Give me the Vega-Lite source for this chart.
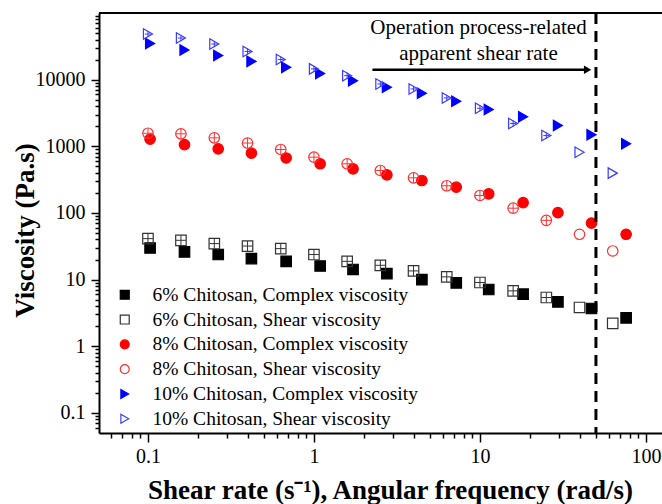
{
  "$schema": "https://vega.github.io/schema/vega-lite/v6.json",
  "width": 563,
  "height": 420,
  "autosize": {"type": "none"},
  "padding": {"left": 99, "top": 13, "right": 0, "bottom": 71},
  "background": "white",
  "config": {
    "view": {"stroke": null},
    "font": "Liberation Serif",
    "axis": {
      "domainColor": "black",
      "domainWidth": 2,
      "tickColor": "black",
      "tickWidth": 1.5,
      "labelColor": "black",
      "titleColor": "black",
      "labelFont": "Liberation Serif",
      "titleFont": "Liberation Serif",
      "labelFontSize": 20,
      "titleFontSize": 27,
      "titleFontWeight": "bold",
      "grid": false,
      "labelOverlap": false,
      "labelFlush": false
    }
  },
  "datasets": {
    "viscosity": [
      {"series": "6% Chitosan, Complex viscosity", "x": 0.103, "y": 29.8},
      {"series": "6% Chitosan, Complex viscosity", "x": 0.166, "y": 26.0},
      {"series": "6% Chitosan, Complex viscosity", "x": 0.265, "y": 23.8},
      {"series": "6% Chitosan, Complex viscosity", "x": 0.42, "y": 20.7},
      {"series": "6% Chitosan, Complex viscosity", "x": 0.68, "y": 18.8},
      {"series": "6% Chitosan, Complex viscosity", "x": 1.09, "y": 16.0},
      {"series": "6% Chitosan, Complex viscosity", "x": 1.72, "y": 14.2},
      {"series": "6% Chitosan, Complex viscosity", "x": 2.75, "y": 12.3},
      {"series": "6% Chitosan, Complex viscosity", "x": 4.47, "y": 10.0},
      {"series": "6% Chitosan, Complex viscosity", "x": 7.2, "y": 8.93},
      {"series": "6% Chitosan, Complex viscosity", "x": 11.3, "y": 7.11},
      {"series": "6% Chitosan, Complex viscosity", "x": 18.2, "y": 6.04},
      {"series": "6% Chitosan, Complex viscosity", "x": 29.5, "y": 4.63},
      {"series": "6% Chitosan, Complex viscosity", "x": 47, "y": 3.69},
      {"series": "6% Chitosan, Complex viscosity", "x": 76, "y": 2.67},
      {"series": "6% Chitosan, Shear viscosity", "x": 0.1, "y": 41.2},
      {"series": "6% Chitosan, Shear viscosity", "x": 0.158, "y": 38.9},
      {"series": "6% Chitosan, Shear viscosity", "x": 0.251, "y": 34.7},
      {"series": "6% Chitosan, Shear viscosity", "x": 0.398, "y": 31.9},
      {"series": "6% Chitosan, Shear viscosity", "x": 0.631, "y": 29.2},
      {"series": "6% Chitosan, Shear viscosity", "x": 1, "y": 23.8},
      {"series": "6% Chitosan, Shear viscosity", "x": 1.585, "y": 18.8},
      {"series": "6% Chitosan, Shear viscosity", "x": 2.512, "y": 16.4},
      {"series": "6% Chitosan, Shear viscosity", "x": 3.981, "y": 13.5},
      {"series": "6% Chitosan, Shear viscosity", "x": 6.31, "y": 11.0},
      {"series": "6% Chitosan, Shear viscosity", "x": 10, "y": 9.05},
      {"series": "6% Chitosan, Shear viscosity", "x": 15.85, "y": 6.78},
      {"series": "6% Chitosan, Shear viscosity", "x": 25.12, "y": 5.39},
      {"series": "6% Chitosan, Shear viscosity", "x": 39.81, "y": 3.82},
      {"series": "6% Chitosan, Shear viscosity", "x": 63.1, "y": 2.2},
      {"series": "8% Chitosan, Complex viscosity", "x": 0.103, "y": 1280},
      {"series": "8% Chitosan, Complex viscosity", "x": 0.166, "y": 1060},
      {"series": "8% Chitosan, Complex viscosity", "x": 0.265, "y": 918},
      {"series": "8% Chitosan, Complex viscosity", "x": 0.42, "y": 788},
      {"series": "8% Chitosan, Complex viscosity", "x": 0.68, "y": 668},
      {"series": "8% Chitosan, Complex viscosity", "x": 1.09, "y": 547},
      {"series": "8% Chitosan, Complex viscosity", "x": 1.72, "y": 460},
      {"series": "8% Chitosan, Complex viscosity", "x": 2.75, "y": 374},
      {"series": "8% Chitosan, Complex viscosity", "x": 4.47, "y": 307},
      {"series": "8% Chitosan, Complex viscosity", "x": 7.2, "y": 244},
      {"series": "8% Chitosan, Complex viscosity", "x": 11.3, "y": 194},
      {"series": "8% Chitosan, Complex viscosity", "x": 18.2, "y": 143},
      {"series": "8% Chitosan, Complex viscosity", "x": 29.5, "y": 101},
      {"series": "8% Chitosan, Complex viscosity", "x": 47, "y": 70.6},
      {"series": "8% Chitosan, Complex viscosity", "x": 76, "y": 47.9},
      {"series": "8% Chitosan, Shear viscosity", "x": 0.1, "y": 1570},
      {"series": "8% Chitosan, Shear viscosity", "x": 0.158, "y": 1540},
      {"series": "8% Chitosan, Shear viscosity", "x": 0.251, "y": 1340},
      {"series": "8% Chitosan, Shear viscosity", "x": 0.398, "y": 1120},
      {"series": "8% Chitosan, Shear viscosity", "x": 0.631, "y": 896},
      {"series": "8% Chitosan, Shear viscosity", "x": 1, "y": 687},
      {"series": "8% Chitosan, Shear viscosity", "x": 1.585, "y": 547},
      {"series": "8% Chitosan, Shear viscosity", "x": 2.512, "y": 434},
      {"series": "8% Chitosan, Shear viscosity", "x": 3.981, "y": 337},
      {"series": "8% Chitosan, Shear viscosity", "x": 6.31, "y": 256},
      {"series": "8% Chitosan, Shear viscosity", "x": 10, "y": 183},
      {"series": "8% Chitosan, Shear viscosity", "x": 15.85, "y": 118},
      {"series": "8% Chitosan, Shear viscosity", "x": 25.12, "y": 77.5},
      {"series": "8% Chitosan, Shear viscosity", "x": 39.81, "y": 47.9},
      {"series": "8% Chitosan, Shear viscosity", "x": 63.1, "y": 26.9},
      {"series": "10% Chitosan, Complex viscosity", "x": 0.103, "y": 34900},
      {"series": "10% Chitosan, Complex viscosity", "x": 0.166, "y": 27800},
      {"series": "10% Chitosan, Complex viscosity", "x": 0.265, "y": 23100},
      {"series": "10% Chitosan, Complex viscosity", "x": 0.42, "y": 18800},
      {"series": "10% Chitosan, Complex viscosity", "x": 0.68, "y": 15300},
      {"series": "10% Chitosan, Complex viscosity", "x": 1.09, "y": 12400},
      {"series": "10% Chitosan, Complex viscosity", "x": 1.72, "y": 9660},
      {"series": "10% Chitosan, Complex viscosity", "x": 2.75, "y": 7670},
      {"series": "10% Chitosan, Complex viscosity", "x": 4.47, "y": 6240},
      {"series": "10% Chitosan, Complex viscosity", "x": 7.2, "y": 4730},
      {"series": "10% Chitosan, Complex viscosity", "x": 11.3, "y": 3560},
      {"series": "10% Chitosan, Complex viscosity", "x": 18.2, "y": 2780},
      {"series": "10% Chitosan, Complex viscosity", "x": 29.5, "y": 2050},
      {"series": "10% Chitosan, Complex viscosity", "x": 47, "y": 1490},
      {"series": "10% Chitosan, Complex viscosity", "x": 76, "y": 1090},
      {"series": "10% Chitosan, Shear viscosity", "x": 0.1, "y": 48300},
      {"series": "10% Chitosan, Shear viscosity", "x": 0.158, "y": 42100},
      {"series": "10% Chitosan, Shear viscosity", "x": 0.251, "y": 34200},
      {"series": "10% Chitosan, Shear viscosity", "x": 0.398, "y": 26500},
      {"series": "10% Chitosan, Shear viscosity", "x": 0.631, "y": 20100},
      {"series": "10% Chitosan, Shear viscosity", "x": 1, "y": 14500},
      {"series": "10% Chitosan, Shear viscosity", "x": 1.585, "y": 11480},
      {"series": "10% Chitosan, Shear viscosity", "x": 2.512, "y": 8620},
      {"series": "10% Chitosan, Shear viscosity", "x": 3.981, "y": 7260},
      {"series": "10% Chitosan, Shear viscosity", "x": 6.31, "y": 5320},
      {"series": "10% Chitosan, Shear viscosity", "x": 10, "y": 3720},
      {"series": "10% Chitosan, Shear viscosity", "x": 15.85, "y": 2200},
      {"series": "10% Chitosan, Shear viscosity", "x": 25.12, "y": 1450},
      {"series": "10% Chitosan, Shear viscosity", "x": 39.81, "y": 816},
      {"series": "10% Chitosan, Shear viscosity", "x": 63.1, "y": 396}
    ],
    "frameTop": [{"y": 100000}],
    "cutoff": [{"x": 50}],
    "arrow": [{"x": 2.25, "x2": 44, "y": 14100}],
    "arrowHead": [{"x": 44.5, "y": 14100}],
    "note": [
      {"x": 9.8, "y": 48400, "text": "Operation process-related"},
      {"x": 9.8, "y": 19700, "text": "apparent shear rate"}
    ]
  },
  "layer": [
    {
      "data": {"name": "frameTop"},
      "mark": {"type": "rule", "color": "black", "strokeWidth": 2},
      "encoding": {"y": {"field": "y", "type": "quantitative"}}
    },
    {
      "data": {"name": "viscosity"},
      "mark": {"type": "point", "filled": true, "size": 110, "strokeWidth": 1.2, "opacity": 1},
      "encoding": {
        "x": {
          "field": "x",
          "type": "quantitative",
          "scale": {"type": "log", "domain": [0.0507, 125], "nice": false},
          "axis": {
            "values": [0.06, 0.07, 0.08, 0.09, 0.1, 0.2, 0.3, 0.4, 0.5, 0.6, 0.7, 0.8, 0.9, 1, 2, 3, 4, 5, 6, 7, 8, 9, 10, 20, 30, 40, 50, 60, 70, 80, 90, 100],
            "tickSize": {"condition": {"test": "abs(log(datum.value)/LN10 - round(log(datum.value)/LN10)) < 0.001", "value": 9}, "value": 5},
            "labelExpr": "abs(log(datum.value)/LN10 - round(log(datum.value)/LN10)) < 0.001 ? format(datum.value, '~g') : ''",
            "labelPadding": 4,
            "title": "Shear rate (s⁻¹), Angular frequency (rad/s)",
            "titleX": 291,
            "titleY": 65,
            "titleBaseline": "alphabetic",
            "titleAlign": "center"
          }
        },
        "y": {
          "field": "y",
          "type": "quantitative",
          "scale": {"type": "log", "domain": [0.05, 100000], "nice": false},
          "axis": {
            "values": [0.06, 0.07, 0.08, 0.09, 0.1, 0.2, 0.3, 0.4, 0.5, 0.6, 0.7, 0.8, 0.9, 1, 2, 3, 4, 5, 6, 7, 8, 9, 10, 20, 30, 40, 50, 60, 70, 80, 90, 100, 200, 300, 400, 500, 600, 700, 800, 900, 1000, 2000, 3000, 4000, 5000, 6000, 7000, 8000, 9000, 10000, 20000, 30000, 40000, 50000, 60000, 70000, 80000, 90000],
            "tickSize": {"condition": {"test": "abs(log(datum.value)/LN10 - round(log(datum.value)/LN10)) < 0.001", "value": 8}, "value": 4},
            "labelExpr": "abs(log(datum.value)/LN10 - round(log(datum.value)/LN10)) < 0.001 ? format(datum.value, '~g') : ''",
            "labelPadding": 6,
            "title": "Viscosity (Pa.s)",
            "titleX": -66,
            "titleY": 217,
            "titleBaseline": "alphabetic",
            "titleAlign": "center"
          }
        },
        "shape": {
          "field": "series",
          "type": "nominal",
          "scale": {
            "domain": ["6% Chitosan, Complex viscosity", "6% Chitosan, Shear viscosity", "8% Chitosan, Complex viscosity", "8% Chitosan, Shear viscosity", "10% Chitosan, Complex viscosity", "10% Chitosan, Shear viscosity"],
            "range": ["square", "square", "circle", "circle", "triangle-right", "triangle-right"]
          },
          "legend": {"orient": "none", "legendX": 16, "legendY": 272, "title": null, "padding": 0, "labelFont": "Liberation Serif", "labelFontSize": 19.5, "labelColor": "black", "labelLimit": 400, "symbolSize": 80, "symbolStrokeWidth": 1.2, "rowPadding": 3.8, "labelOffset": 18}
        },
        "fill": {
          "field": "series",
          "type": "nominal",
          "scale": {
            "domain": ["6% Chitosan, Complex viscosity", "6% Chitosan, Shear viscosity", "8% Chitosan, Complex viscosity", "8% Chitosan, Shear viscosity", "10% Chitosan, Complex viscosity", "10% Chitosan, Shear viscosity"],
            "range": ["black", "transparent", "#ff0000", "transparent", "#0000ff", "transparent"]
          },
          "legend": {"orient": "none", "legendX": 16, "legendY": 272, "title": null, "padding": 0, "labelFont": "Liberation Serif", "labelFontSize": 19.5, "labelColor": "black", "labelLimit": 400, "symbolSize": 80, "symbolStrokeWidth": 1.2, "rowPadding": 3.8, "labelOffset": 18}
        },
        "stroke": {
          "field": "series",
          "type": "nominal",
          "scale": {
            "domain": ["6% Chitosan, Complex viscosity", "6% Chitosan, Shear viscosity", "8% Chitosan, Complex viscosity", "8% Chitosan, Shear viscosity", "10% Chitosan, Complex viscosity", "10% Chitosan, Shear viscosity"],
            "range": ["black", "#333333", "#ff0000", "#ff3030", "#0000ff", "#3b3bff"]
          },
          "legend": {"orient": "none", "legendX": 16, "legendY": 272, "title": null, "padding": 0, "labelFont": "Liberation Serif", "labelFontSize": 19.5, "labelColor": "black", "labelLimit": 400, "symbolSize": 80, "symbolStrokeWidth": 1.2, "rowPadding": 3.8, "labelOffset": 18}
        }
      }
    },
    {
      "data": {"name": "viscosity"},
      "transform": [{"filter": "datum.series === '6% Chitosan, Shear viscosity' && datum.x < 30"}],
      "mark": {"type": "point", "shape": "M-1,0H1M0,-1V1", "size": 100, "strokeWidth": 1, "color": "#333333", "opacity": 1},
      "encoding": {"x": {"field": "x", "type": "quantitative"}, "y": {"field": "y", "type": "quantitative"}}
    },
    {
      "data": {"name": "viscosity"},
      "transform": [{"filter": "datum.series === '8% Chitosan, Shear viscosity' && datum.x < 30"}],
      "mark": {"type": "point", "shape": "M-1,0H1M0,-1V1", "size": 100, "strokeWidth": 1, "color": "#ff3030", "opacity": 1},
      "encoding": {"x": {"field": "x", "type": "quantitative"}, "y": {"field": "y", "type": "quantitative"}}
    },
    {
      "data": {"name": "viscosity"},
      "transform": [{"filter": "datum.series === '10% Chitosan, Shear viscosity' && datum.x < 30"}],
      "mark": {"type": "point", "shape": "M-0.6,0H0.6M0,-0.6V0.6", "size": 100, "strokeWidth": 1, "color": "#3b3bff", "opacity": 1},
      "encoding": {"x": {"field": "x", "type": "quantitative"}, "y": {"field": "y", "type": "quantitative"}}
    },
    {
      "data": {"name": "cutoff"},
      "mark": {"type": "rule", "color": "black", "strokeWidth": 3, "strokeDash": [11, 7]},
      "encoding": {"x": {"field": "x", "type": "quantitative"}}
    },
    {
      "data": {"name": "arrow"},
      "mark": {"type": "rule", "color": "black", "strokeWidth": 2.5},
      "encoding": {
        "x": {"field": "x", "type": "quantitative"},
        "x2": {"field": "x2"},
        "y": {"field": "y", "type": "quantitative"}
      }
    },
    {
      "data": {"name": "arrowHead"},
      "mark": {"type": "point", "shape": "triangle-right", "filled": true, "color": "black", "size": 70, "opacity": 1},
      "encoding": {
        "x": {"field": "x", "type": "quantitative"},
        "y": {"field": "y", "type": "quantitative"}
      }
    },
    {
      "data": {"name": "note"},
      "mark": {"type": "text", "font": "Liberation Serif", "fontSize": 21, "color": "black", "align": "center", "baseline": "alphabetic"},
      "encoding": {
        "x": {"field": "x", "type": "quantitative"},
        "y": {"field": "y", "type": "quantitative"},
        "text": {"field": "text"}
      }
    }
  ]
}
